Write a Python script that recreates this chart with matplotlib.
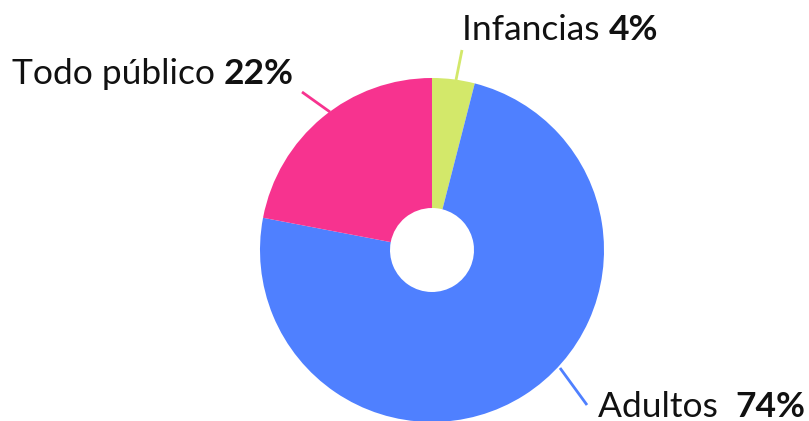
import matplotlib
matplotlib.use("Agg")
import matplotlib.pyplot as plt

categories = ["Infancias", "Adultos", "Todo público"]
values = [4, 74, 22]
pct_labels = ["4%", "74%", "22%"]
colors = ["#d3e86a", "#4f80ff", "#f7338f"]

W, H = 809, 421
fig = plt.figure(figsize=(W / 100, H / 100), dpi=100)
ax = fig.add_axes([0, 0, 1, 1])

cx, cy, R, r_in = 432, 250, 172, 42
wedges, _ = ax.pie(values, colors=colors, startangle=-90, counterclock=True,
                   center=(cx, cy), radius=R, frame=True,
                   wedgeprops=dict(width=R - r_in, linewidth=0))
ax.set_xlim(0, W)
ax.set_ylim(H, 0)
ax.set_aspect("equal")
ax.axis("off")

leaders = {
    "Infancias": ((456, 80), (462, 50)),
    "Adultos": ((560, 368), (587, 405)),
    "Todo público": ((330, 112), (302, 92)),
}
text_pos = {
    "Infancias": (462, 40, ""),
    "Adultos": (598, 417, " "),
    "Todo público": (12, 84, ""),
}
fam = ["Lato", "DejaVu Sans"]
fs = 25.5
renderer = fig.canvas.get_renderer()
inv = ax.transData.inverted()
for cat, pct, col in zip(categories, pct_labels, colors):
    (x0, y0), (x1, y1) = leaders[cat]
    ax.plot([x0, x1], [y0, y1], color=col, lw=2, solid_capstyle="butt")
    tx, ty, extra = text_pos[cat]
    t = ax.text(tx, ty, cat + " " + extra, family=fam, fontsize=fs, weight="normal",
                color="#111111", va="baseline", ha="left")
    bb = t.get_window_extent(renderer=renderer)
    xe = inv.transform((bb.x1, bb.y0))[0]
    ax.text(xe, ty, pct, family=fam, fontsize=fs, weight="bold",
            color="#111111", va="baseline", ha="left")

fig.savefig("out.png", dpi=100)
